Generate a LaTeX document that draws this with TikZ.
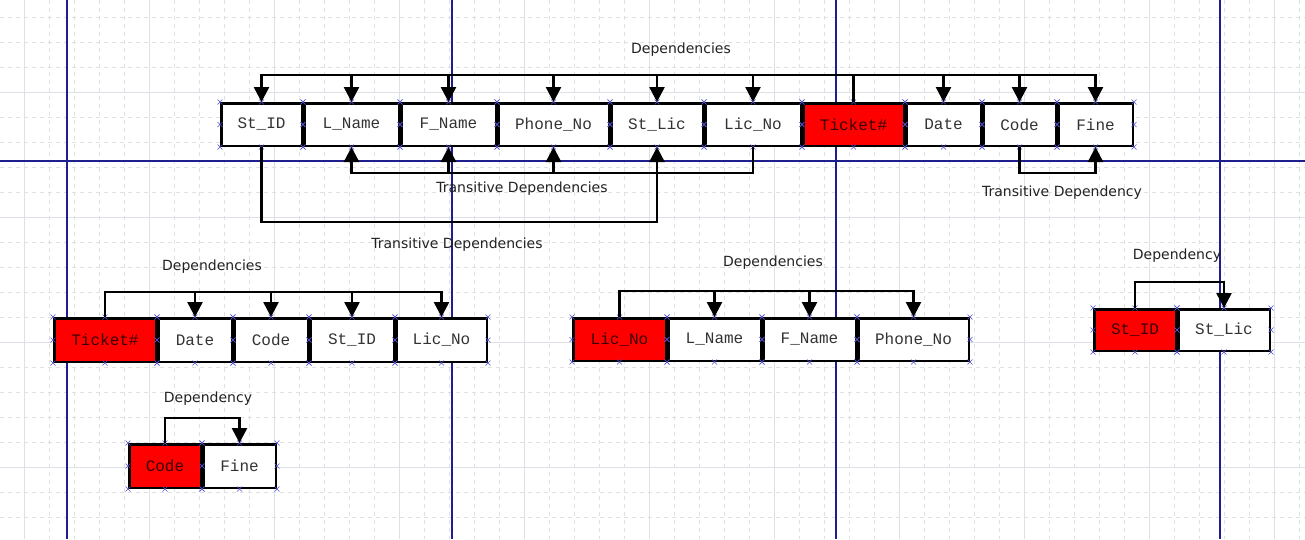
\documentclass[tikz,border=0pt]{standalone}
\usepackage{fontspec}
\setmainfont{DejaVu Sans}
\newfontfamily\monofam{Liberation Mono}
\usetikzlibrary{arrows.meta}
\definecolor{cellred}{HTML}{FF0000}
\definecolor{celltext}{HTML}{333333}
\definecolor{keytext}{HTML}{3A0000}
\definecolor{labtext}{HTML}{222222}
\definecolor{markblue}{HTML}{5050D0}
\definecolor{minorgrid}{HTML}{E0E0E0}
\definecolor{majorgrid}{HTML}{DDE0E6}
\definecolor{pageblue}{HTML}{1E1E8C}
\newcommand\mkbox[7]{%
  \node[#1, minimum width={(#4-#3-2.5)*1pt}, minimum height={(#6-#5-2.5)*1pt}]
    (#2) at ({(#3+#4)/2},{(#5+#6)/2}) {#7};}
\newcommand\mkmarks[1]{%
  \foreach \a in {north west,north,north east,east,south east,south,south west,west}{%
    \draw[xmark] ([shift={(-2.5,-2.5)}]#1.\a) -- ++(5,5)
                 ([shift={(-2.5,2.5)}]#1.\a) -- ++(5,-5);}}
\begin{document}
\begin{tikzpicture}[x=1pt,y=-1pt,
  cell/.style={draw=black, line width=2.5pt, fill=white, inner sep=0pt,
    font=\monofam\fontsize{16}{18}\selectfont, text=celltext},
  key/.style={cell, fill=cellred, text=keytext},
  lab/.style={font=\fontsize{14}{16}\selectfont, text=labtext, inner sep=0pt},
  link/.style={line width=2.5pt, draw=black, line join=miter},
  arr/.style={link, -{Triangle[length=15pt,width=15pt]}},
  xmark/.style={draw=markblue, line width=0.6pt}
]
\useasboundingbox (0,0) rectangle (1305,539);
\fill[white] (0,0) rectangle (1305,539);
% grid
\foreach \k in {0,...,52} \draw[minorgrid, line width=0.8pt, dash pattern=on 4pt off 4pt] ({-1+25*\k},0) -- ({-1+25*\k},539);
\foreach \k in {0,...,21} \draw[minorgrid, line width=0.8pt, dash pattern=on 4pt off 4pt] (0,{17+25*\k}) -- (1305,{17+25*\k});
\foreach \k in {0,...,10} \draw[majorgrid, line width=0.8pt] ({24+125*\k},0) -- ({24+125*\k},539);
\foreach \k in {0,...,3} \draw[majorgrid, line width=0.8pt] (0,{92+125*\k}) -- (1305,{92+125*\k});
\foreach \x in {67,452,836,1220} \draw[pageblue, line width=1.2pt] (\x,0) -- (\x,539);
\draw[pageblue, line width=1.2pt] (0,161) -- (1305,161);

% top row
\mkbox{cell}{a1}{220}{303}{102}{147}{St\_ID}
\mkbox{cell}{a2}{303}{400}{102}{147}{L\_Name}
\mkbox{cell}{a3}{400}{497}{102}{147}{F\_Name}
\mkbox{cell}{a4}{497}{610}{102}{147}{Phone\_No}
\mkbox{cell}{a5}{610}{704}{102}{147}{St\_Lic}
\mkbox{cell}{a6}{704}{802}{102}{147}{Lic\_No}
\mkbox{key}{a7}{802}{905}{102}{147}{Ticket\#}
\mkbox{cell}{a8}{905}{982}{102}{147}{Date}
\mkbox{cell}{a9}{982}{1057}{102}{147}{Code}
\mkbox{cell}{a10}{1057}{1134}{102}{147}{Fine}
% lower left
\mkbox{key}{b1}{53}{157}{317}{363}{Ticket\#}
\mkbox{cell}{b2}{157}{233}{317}{363}{Date}
\mkbox{cell}{b3}{233}{309}{317}{363}{Code}
\mkbox{cell}{b4}{309}{395}{317}{363}{St\_ID}
\mkbox{cell}{b5}{395}{488}{317}{363}{Lic\_No}
% code fine
\mkbox{key}{c1}{128}{202}{443}{489}{Code}
\mkbox{cell}{c2}{202}{277}{443}{489}{Fine}
% middle
\mkbox{key}{d1}{572}{667}{317}{362}{Lic\_No}
\mkbox{cell}{d2}{667}{762}{317}{362}{L\_Name}
\mkbox{cell}{d3}{762}{857}{317}{362}{F\_Name}
\mkbox{cell}{d4}{857}{970}{317}{362}{Phone\_No}
% right
\mkbox{key}{e1}{1093}{1177}{308}{352}{St\_ID}
\mkbox{cell}{e2}{1177}{1271}{308}{352}{St\_Lic}

\foreach \n in {a1,a2,a3,a4,a5,a6,a7,a8,a9,a10,b1,b2,b3,b4,b5,c1,c2,d1,d2,d3,d4,e1,e2} {\mkmarks{\n}}

% levels
\coordinate (t1) at (0,75);
\coordinate (t2) at (0,173);
\coordinate (t3) at (0,222);
\coordinate (u1) at (0,292);
\coordinate (u2) at (0,418);
\coordinate (u3) at (0,291);
\coordinate (u4) at (0,282);

% top dependencies
\draw[arr] (a7.north) |- (a1.north|-t1) -- (a1.north);
\draw[arr] (a7.north) |- (a10.north|-t1) -- (a10.north);
\foreach \n in {a2,a3,a4,a5,a6,a8,a9} \draw[arr] (\n.north|-t1) -- (\n.north);
% transitive
\draw[arr] (a6.south) |- (a2.south|-t2) -- (a2.south);
\foreach \n in {a3,a4} \draw[arr] (\n.south|-t2) -- (\n.south);
\draw[arr] (a1.south) |- (a5.south|-t3) -- (a5.south);
\draw[arr] (a9.south) |- (a10.south|-t2) -- (a10.south);
% lower left
\draw[arr] (b1.north) |- (b5.north|-u1) -- (b5.north);
\foreach \n in {b2,b3,b4} \draw[arr] (\n.north|-u1) -- (\n.north);
% code fine
\draw[arr] (c1.north) |- (c2.north|-u2) -- (c2.north);
% middle
\draw[arr] (d1.north) |- (d4.north|-u3) -- (d4.north);
\foreach \n in {d2,d3} \draw[arr] (\n.north|-u3) -- (\n.north);
% right
\draw[arr] (e1.north) |- (e2.north|-u4) -- (e2.north);

% labels
\node[lab] (l1) at (681,50) {Dependencies};
\node[lab] (l2) at (522,189) {Transitive Dependencies};
\node[lab] (l3) at (457,245) {Transitive Dependencies};
\node[lab] (l4) at (1062,193) {Transitive Dependency};
\node[lab] (l5) at (212,267) {Dependencies};
\node[lab] (l6) at (208,399) {Dependency};
\node[lab] (l7) at (773,263) {Dependencies};
\node[lab] (l8) at (1177,256) {Dependency};
\end{tikzpicture}
\end{document}
